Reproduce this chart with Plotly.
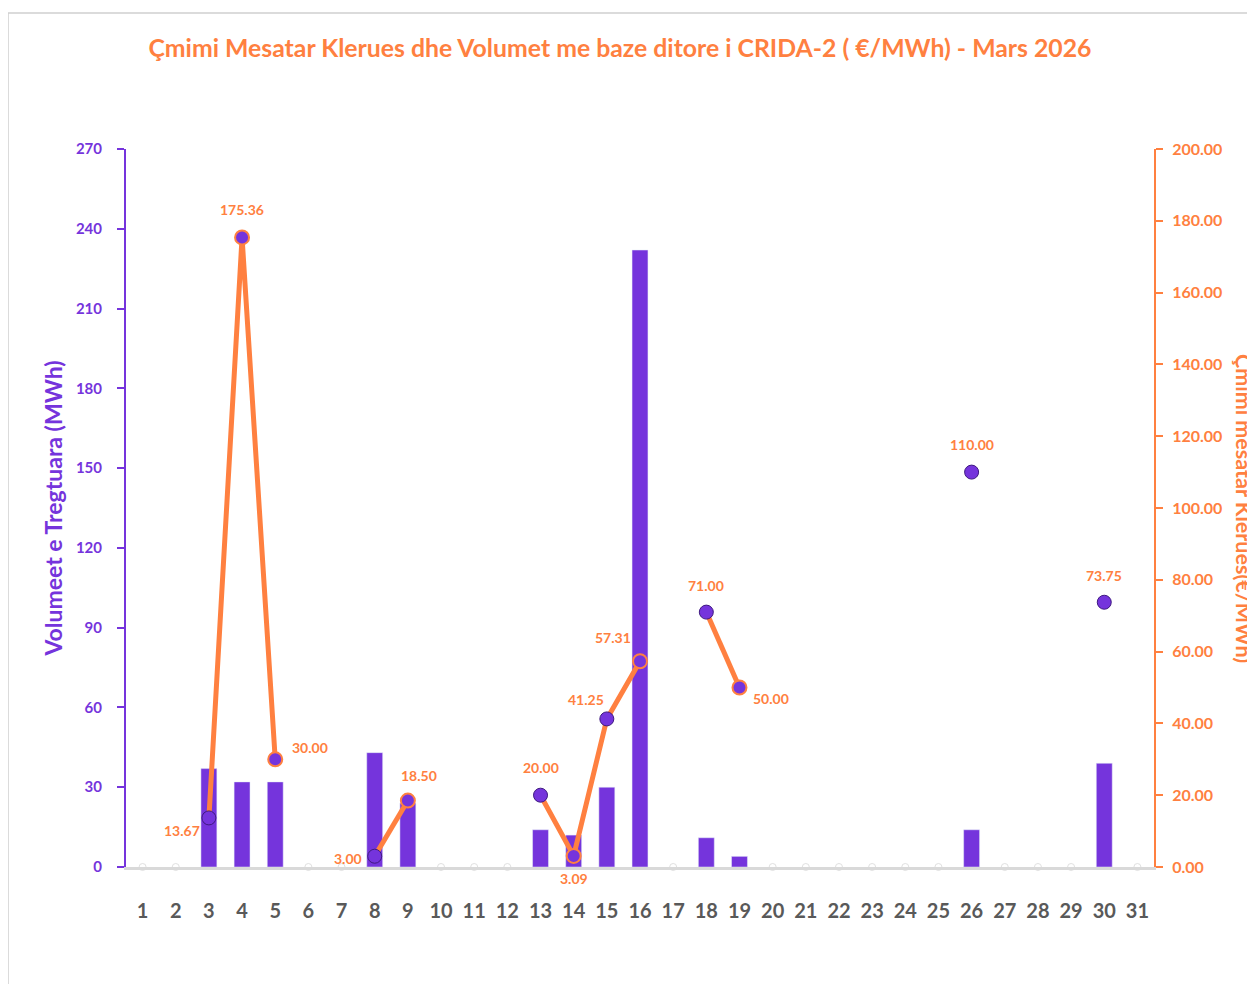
import plotly.graph_objects as go

days = [str(d) for d in range(1, 32)]
volumes = [None, None, 37, 32, 32, None, None, 43, 24, None, None, None, 14, 12, 30, 232,
           None, 11, 4, None, None, None, None, None, None, 14, None, None, None, 39, None]
prices = [None, None, 13.67, 175.36, 30.00, None, None, 3.00, 18.50, None, None, None, 20.00, 3.09,
          41.25, 57.31, None, 71.00, 50.00, None, None, None, None, None, None, 110.00, None, None,
          None, 73.75, None]

# label offsets (pixels) relative to the point, per day
label_shift = {3: (-27, -13), 4: (0, 28), 5: (35, 12), 8: (-27, -2), 9: (11, 25),
               13: (0, 28), 14: (0, -23), 15: (-21, 19), 16: (-27, 24), 18: (0, 27),
               19: (32, -11), 26: (0, 28), 30: (0, 27)}
outlined = {4, 5, 9, 14, 16, 19}

purple = "#7534DC"
dark_purple = "#3f1a80"
orange = "#FF8040"
gray_text = "#595959"

L, R, T, B = 118, 109, 141, 125
W, H = 1255, 984
pw, ph = W - L - R, H - T - B

fig = go.Figure()
fig.add_trace(go.Bar(x=days, y=volumes, marker_color=purple, yaxis="y", name="Volumi",
                     hoverinfo="x+y"))
empty_x = [d for d, p in zip(days, prices) if p is None]
fig.add_trace(go.Scatter(x=empty_x, y=[0] * len(empty_x), yaxis="y2", mode="markers",
                         marker=dict(size=7, color="white", line=dict(color="#e0e0e0", width=1)),
                         hoverinfo="skip", showlegend=False, cliponaxis=False))
mline = [orange if (i + 1) in outlined else dark_purple for i in range(31)]
mwidth = [2 if (i + 1) in outlined else 1 for i in range(31)]
fig.add_trace(go.Scatter(x=days, y=prices, yaxis="y2", mode="lines+markers",
                         connectgaps=False, cliponaxis=False,
                         line=dict(color=orange, width=5),
                         marker=dict(size=14, color=purple, line=dict(color=mline, width=mwidth)),
                         name="Çmimi"))

annotations = []
for i, (d, p) in enumerate(zip(days, prices)):
    if p is None:
        continue
    dx, dy = label_shift.get(int(d), (0, 27))
    annotations.append(dict(x=i, y=p, xref="x", yref="y2", text=f"{p:.2f}", showarrow=False,
                            xshift=dx, yshift=dy, xanchor="center", yanchor="middle",
                            font=dict(color=orange, size=14, family="Lato", weight="bold")))
annotations.append(dict(text="Çmimi mesatar Klerues(€/MWh)", xref="paper", yref="paper",
                        x=(1236 - L) / pw, y=0.5, textangle=90, showarrow=False,
                        xanchor="center", yanchor="middle",
                        font=dict(size=21.5, color=orange, family="Lato", weight="bold")))

fig.update_layout(
    width=W, height=H,
    margin=dict(l=L, r=R, t=T, b=B, autoexpand=False),
    paper_bgcolor="white", plot_bgcolor="white",
    showlegend=False, bargap=0.52,
    title=dict(text="Çmimi Mesatar Klerues dhe Volumet me baze ditore i CRIDA-2 ( €/MWh) - Mars 2026",
               x=612 / W, xanchor="center", y=1 - 40 / H, yanchor="middle",
               font=dict(family="Lato", size=24.8, color=orange, weight="bold")),
    font=dict(family="Lato"),
    xaxis=dict(type="category", range=[-0.5, 30.5], showgrid=False,
               showline=True, linecolor="#d9d9d9", linewidth=3,
               ticks="outside", ticklen=24, tickcolor="rgba(0,0,0,0)",
               tickfont=dict(size=20, color=gray_text, family="Lato", weight="bold")),
    yaxis=dict(range=[0, 270], dtick=30, showgrid=False, zeroline=False,
               showline=True, linecolor=purple, linewidth=2,
               ticks="outside", ticklen=7, tickcolor=purple, tickwidth=2,
               ticklabelstandoff=12,
               tickfont=dict(size=15, color=purple, family="Lato", weight="bold"),
               title=dict(text="Volumeet e Tregtuara (MWh)", standoff=7,
                          font=dict(size=23, color=purple, family="Lato", weight="bold"))),
    yaxis2=dict(range=[0, 200], dtick=20, overlaying="y", side="right", showgrid=False,
                zeroline=False, showline=True, linecolor=orange, linewidth=2,
                ticks="outside", ticklen=7, tickcolor=orange, tickwidth=2, tickformat=".2f",
                ticklabelstandoff=6,
                tickfont=dict(size=16, color=orange, family="Lato", weight="bold")),
    annotations=annotations,
    shapes=[dict(type="rect", xref="paper", yref="paper", x0=-L / pw, x1=(W + 50 - L) / pw,
                 y0=-(B + 50) / ph, y1=1 + (T - 5) / ph,
                 line=dict(color="#d0d0d0", width=1.5), layer="below")],
)

fig.write_html("out.html")
